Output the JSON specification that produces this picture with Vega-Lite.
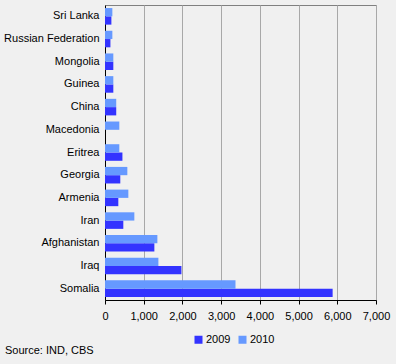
{
  "$schema": "https://vega.github.io/schema/vega-lite/v6.json",
  "autosize": "none",
  "width": 271,
  "height": 295,
  "padding": {"left": 105, "top": 5, "right": 20, "bottom": 64},
  "background": "#f0f0f0",
  "title": {
    "text": "Source: IND, CBS",
    "orient": "bottom",
    "anchor": "start",
    "frame": "group",
    "dx": -100,
    "offset": 0,
    "font": "Liberation Sans",
    "fontSize": 11,
    "fontWeight": "normal",
    "color": "#000000"
  },
  "config": {
    "view": {"stroke": "#808080", "strokeWidth": 1},
    "font": "Liberation Sans",
    "axis": {"labelFont": "Liberation Sans", "labelFontSize": 11, "labelColor": "#000000", "title": null},
    "legend": {"labelFont": "Liberation Sans", "labelFontSize": 11, "labelColor": "#000000"}
  },
  "data": {
    "values": [
      {"country": "Sri Lanka", "year": "2009", "value": 165},
      {"country": "Sri Lanka", "year": "2010", "value": 190},
      {"country": "Russian Federation", "year": "2009", "value": 140},
      {"country": "Russian Federation", "year": "2010", "value": 190},
      {"country": "Mongolia", "year": "2009", "value": 215},
      {"country": "Mongolia", "year": "2010", "value": 215},
      {"country": "Guinea", "year": "2009", "value": 215},
      {"country": "Guinea", "year": "2010", "value": 215},
      {"country": "China", "year": "2009", "value": 290},
      {"country": "China", "year": "2010", "value": 290},
      {"country": "Macedonia", "year": "2009", "value": 0},
      {"country": "Macedonia", "year": "2010", "value": 370},
      {"country": "Eritrea", "year": "2009", "value": 450},
      {"country": "Eritrea", "year": "2010", "value": 370},
      {"country": "Georgia", "year": "2009", "value": 395},
      {"country": "Georgia", "year": "2010", "value": 577},
      {"country": "Armenia", "year": "2009", "value": 344},
      {"country": "Armenia", "year": "2010", "value": 603},
      {"country": "Iran", "year": "2009", "value": 473},
      {"country": "Iran", "year": "2010", "value": 758},
      {"country": "Afghanistan", "year": "2009", "value": 1275},
      {"country": "Afghanistan", "year": "2010", "value": 1353},
      {"country": "Iraq", "year": "2009", "value": 1974},
      {"country": "Iraq", "year": "2010", "value": 1379},
      {"country": "Somalia", "year": "2009", "value": 5880},
      {"country": "Somalia", "year": "2010", "value": 3371}
    ]
  },
  "mark": {"type": "bar"},
  "encoding": {
    "y": {
      "field": "country",
      "type": "nominal",
      "sort": null,
      "scale": {"paddingInner": 0.27, "paddingOuter": 0.135},
      "axis": {"domainColor": "#000000", "ticks": false, "labelPadding": 6, "grid": false}
    },
    "yOffset": {
      "field": "year",
      "type": "nominal",
      "sort": "descending",
      "scale": {"paddingInner": 0, "paddingOuter": 0}
    },
    "x": {
      "field": "value",
      "type": "quantitative",
      "scale": {"domain": [0, 7000], "nice": false},
      "axis": {
        "values": [0, 1000, 2000, 3000, 4000, 5000, 6000, 7000],
        "format": ",d",
        "labelOverlap": false,
        "labelFlush": false,
        "labelBound": false,
        "domainColor": "#000000",
        "tickColor": "#000000",
        "tickSize": 4,
        "labelPadding": 6,
        "gridColor": "#a8a8a8",
        "gridOpacity": 1
      }
    },
    "color": {
      "field": "year",
      "type": "nominal",
      "scale": {"domain": ["2009", "2010"], "range": ["#3333ff", "#6699ff"]},
      "legend": {
        "title": null,
        "orient": "none",
        "direction": "horizontal",
        "legendX": 88,
        "legendY": 329,
        "symbolType": "square",
        "symbolSize": 64,
        "symbolStrokeWidth": 0,
        "symbolOpacity": 1,
        "labelOffset": 2,
        "columnPadding": 6
      }
    }
  }
}
